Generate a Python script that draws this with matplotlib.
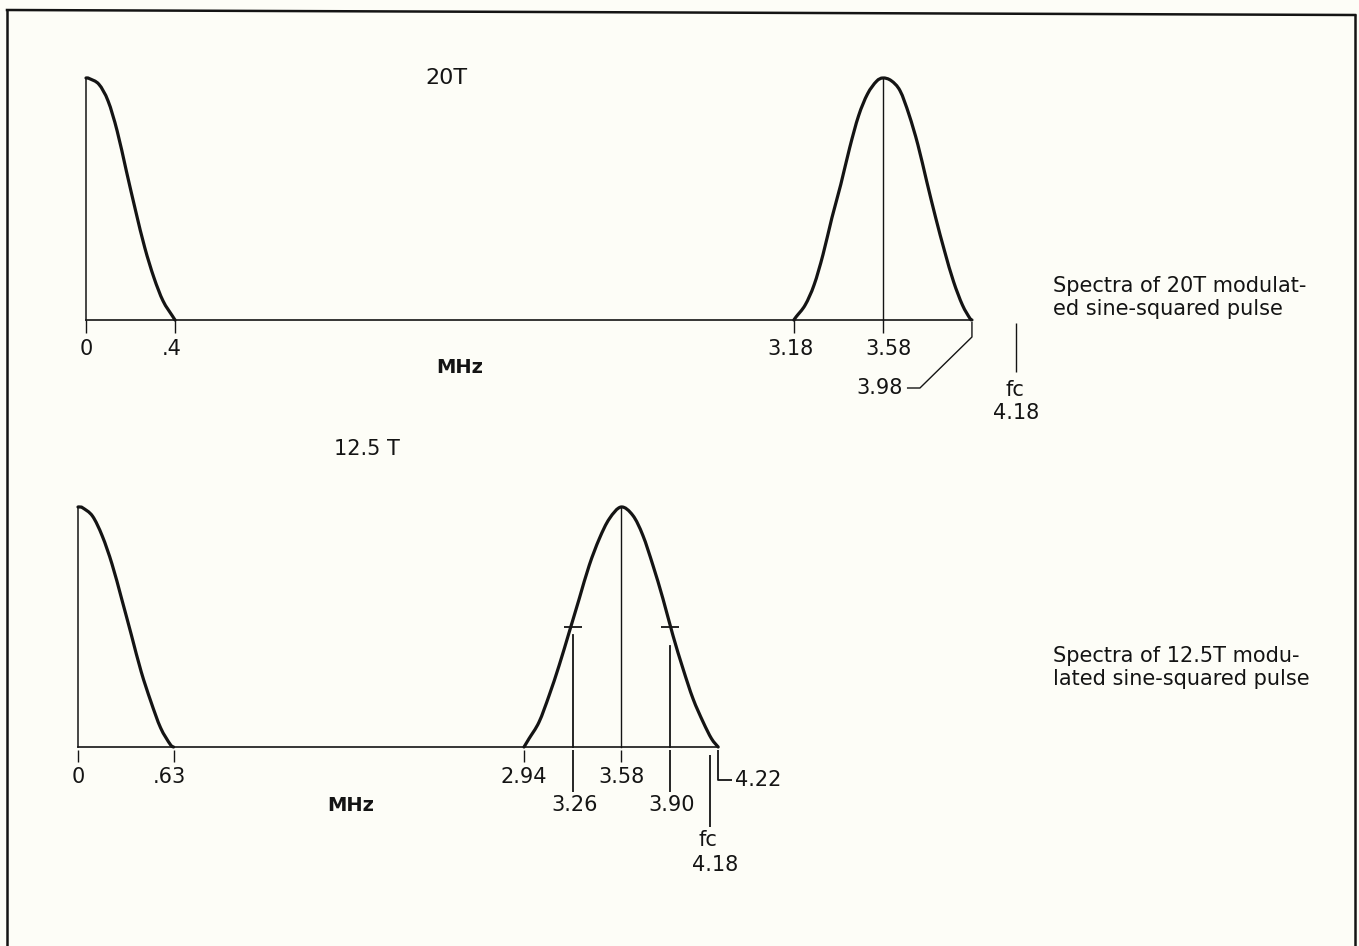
import numpy as np
import matplotlib.pyplot as plt
from matplotlib.lines import Line2D
from matplotlib.path import Path
from matplotlib.patches import PathPatch

W, H = 1359, 946
INK = '#141414'
PAPER = '#fdfdf7'

# 20T panel: low-pass lobe (fraction of cutoff, relative amplitude)
top_lobe_cut = 0.4
top_lobe_frac = [0, 0.015, 0.041, 0.145, 0.248, 0.35, 0.453, 0.558, 0.66, 0.763, 0.865, 0.97, 1.0]
top_lobe_amp = [1.0, 1.0, 0.997, 0.974, 0.905, 0.781, 0.616, 0.45, 0.299, 0.175, 0.079, 0.017, 0.0]

# 20T panel: band-pass pulse around the subcarrier (offset in half-widths, amplitude)
top_fsc = 3.58
top_half = 0.4
top_bell_off = [-1.0, -0.973, -0.873, -0.773, -0.673, -0.573, -0.473, -0.373, -0.273, -0.173, -0.073, 0.0,
                0.093, 0.193, 0.293, 0.393, 0.493, 0.593, 0.693, 0.793, 0.893, 0.977, 1.0]
top_bell_amp = [0.0, 0.014, 0.062, 0.145, 0.27, 0.422, 0.56, 0.712, 0.844, 0.934, 0.986, 1.0,
                0.989, 0.947, 0.849, 0.724, 0.571, 0.422, 0.284, 0.159, 0.062, 0.007, 0.0]

# 12.5T panel
bot_lobe_cut = 0.63
bot_lobe_frac = [0, 0.02, 0.051, 0.152, 0.254, 0.356, 0.457, 0.559, 0.661, 0.762, 0.864, 0.965, 1.0]
bot_lobe_amp = [1.0, 1.0, 0.996, 0.962, 0.879, 0.762, 0.617, 0.466, 0.314, 0.19, 0.08, 0.011, 0.0]

bot_fsc = 3.58
bot_half = 0.64
bot_bell_off = [-1.0, -0.948, -0.845, -0.741, -0.638, -0.534, -0.431, -0.328, -0.224, -0.121, 0.0,
                0.121, 0.224, 0.328, 0.431, 0.534, 0.638, 0.741, 0.845, 0.931, 1.0]
bot_bell_amp = [0.0, 0.035, 0.104, 0.215, 0.34, 0.479, 0.618, 0.757, 0.868, 0.951, 1.0,
                0.965, 0.882, 0.757, 0.618, 0.465, 0.326, 0.201, 0.104, 0.035, 0.0]

# half-amplitude points of the 12.5T pulse and the height of their drop lines
bot_half_pts = [3.26, 3.90]
bot_half_line_top = [0.465, 0.42]
half_level = 0.5

top_short_ticks = [0, 0.4, 3.18, 3.58]
top_short_labels = ['0', '.4', '3.18', '3.58']
top_label_nudge = [0, -3, -3, 6]
top_edge = 3.98
fc = 4.18

bot_short_ticks = [0, 0.63, 2.94, 3.58]
bot_short_labels = ['0', '.63', '2.94', '3.58']
bot_label_nudge = [0, -4, 0, 0]
bot_long_ticks = [3.26, 3.90]
bot_long_labels = ['3.26', '3.90']
bot_edge = 4.22

fig = plt.figure(figsize=(W / 100, H / 100), dpi=100, facecolor=PAPER)


def make_panel(x0, ppm, base, apx):
    # axes covering the whole sheet, scaled so MHz / amplitude land where wanted
    ax = fig.add_axes([0, 0, 1, 1])
    ax.set_xlim(-x0 / ppm, (W - x0) / ppm)
    ax.set_ylim((base - H) / apx, base / apx)
    ax.axis('off')
    ax.patch.set_alpha(0)
    ax.ppm, ax.apx = ppm, apx
    return ax


def smooth_curve(ax, xs, ys, lw=2.3):
    # cubic bezier through the read points (catmull-rom tangents)
    p = np.column_stack([xs, ys])
    ext = np.vstack([p[0], p, p[-1]])
    verts = [p[0]]
    codes = [Path.MOVETO]
    for i in range(1, len(ext) - 2):
        p0, p1, p2, p3 = ext[i - 1], ext[i], ext[i + 1], ext[i + 2]
        verts += [p1 + (p2 - p0) / 6, p2 - (p3 - p1) / 6, p2]
        codes += [Path.CURVE4] * 3
    ax.add_patch(PathPatch(Path(verts, codes), fill=False, edgecolor=INK, lw=lw,
                           joinstyle='round', capstyle='round'))


def seg(ax, f, pts, lw=1.0):
    # polyline given as pixel offsets (right, down) from the point (f, 0)
    xs = [f + p[0] / ax.ppm for p in pts]
    ys = [-p[1] / ax.apx for p in pts]
    ax.plot(xs, ys, color=INK, lw=lw, solid_capstyle='butt')


def label(ax, f, text, dx, dy, ha='center', size=15):
    ax.annotate(text, xy=(f, 0), xytext=(dx, -dy), textcoords='offset pixels',
                ha=ha, va='center', fontsize=size, color=INK)


def draw_spectrum(ax, cut, lfrac, lamp, fsc, half, boff, bamp, edge):
    lf = np.array(lfrac) * cut
    ax.plot([0, 0], [0, 1], color=INK, lw=1.1)
    smooth_curve(ax, lf, lamp)
    bf = fsc + np.array(boff) * half
    smooth_curve(ax, bf, bamp)
    ax.plot([0, edge], [0, 0], color=INK, lw=1.2)
    ax.plot([fsc, fsc], [0, 1], color=INK, lw=1.0)


# ---- 20T ----
ax1 = make_panel(86, 222.6, 320, 242)
draw_spectrum(ax1, top_lobe_cut, top_lobe_frac, top_lobe_amp, top_fsc, top_half,
              top_bell_off, top_bell_amp, top_edge)
for f, t, n in zip(top_short_ticks, top_short_labels, top_label_nudge):
    seg(ax1, f, [(0, 0), (0, 13)])
    label(ax1, f, t, n, 29)
# 3.98 leader and fc marker
seg(ax1, top_edge, [(0, 2), (0, 17), (-52, 68), (-65, 68)])
label(ax1, top_edge, '3.98', -69, 68, ha='right')
seg(ax1, fc, [(0, 3), (0, 52)])
label(ax1, fc, 'fc', -2, 70)
label(ax1, fc, '4.18', 0, 93)
fig.text(446 / W, 1 - 78 / H, '20T', ha='center', va='center', fontsize=16, color=INK)
fig.text(460 / W, 1 - 367 / H, 'MHz', ha='center', va='center', fontsize=14,
         fontweight='bold', color=INK)

# ---- 12.5T ----
ax2 = make_panel(78, 151.7, 747, 240)
draw_spectrum(ax2, bot_lobe_cut, bot_lobe_frac, bot_lobe_amp, bot_fsc, bot_half,
              bot_bell_off, bot_bell_amp, bot_edge)
for f, top in zip(bot_half_pts, bot_half_line_top):
    ax2.plot([f, f], [0, top], color=INK, lw=1.3)
    seg(ax2, f, [(-9, -half_level * ax2.apx), (9, -half_level * ax2.apx)], lw=1.3)
for f, t, n in zip(bot_short_ticks, bot_short_labels, bot_label_nudge):
    seg(ax2, f, [(0, 3), (0, 15)])
    label(ax2, f, t, n, 30)
for f, t in zip(bot_long_ticks, bot_long_labels):
    seg(ax2, f, [(0, 3), (0, 45)], lw=1.3)
    label(ax2, f, t, 2, 58)
seg(ax2, fc, [(-2, 8), (-2, 80)], lw=1.3)
label(ax2, fc, 'fc', -4, 93)
label(ax2, fc, '4.18', 3, 118)
seg(ax2, bot_edge, [(0, 3), (0, 33), (14, 33)], lw=1.3)
label(ax2, bot_edge, '4.22', 17, 33, ha='left')
fig.text(367 / W, 1 - 449 / H, '12.5 T', ha='center', va='center', fontsize=15, color=INK)
fig.text(351 / W, 1 - 805 / H, 'MHz', ha='center', va='center', fontsize=14,
         fontweight='bold', color=INK)

# captions
captions = [(292, 'Spectra of 20T modulat-'), (315, 'ed sine-squared pulse'),
            (662, 'Spectra of 12.5T modu-'), (685, 'lated sine-squared pulse')]
for y, t in captions:
    fig.text(1053 / W, 1 - y / H, t, ha='left', va='baseline', fontsize=15, color=INK)

# frame
for xs, ys in [([7, 1355], [10, 15]), ([7, 7], [10, 946]), ([1355, 1355], [15, 946])]:
    fig.add_artist(Line2D([x / W for x in xs], [1 - y / H for y in ys],
                          transform=fig.transFigure, color=INK, lw=1.8))

fig.savefig('out.png', dpi=100, facecolor=PAPER)
